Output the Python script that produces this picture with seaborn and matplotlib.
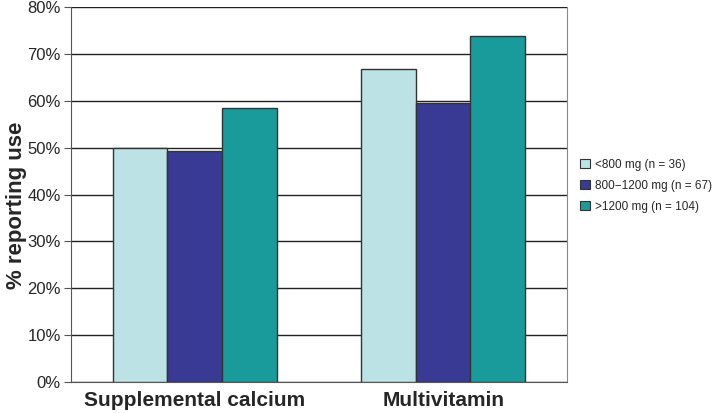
import matplotlib
matplotlib.use("Agg")
import matplotlib.pyplot as plt
import seaborn as sns
import pandas as pd
from matplotlib.ticker import PercentFormatter

categories = ["Supplemental calcium", "Multivitamin"]
groups = ["<800 mg (n = 36)", "800\u22121200 mg (n = 67)", ">1200 mg (n = 104)"]
calcium = [50.0, 49.3, 58.5]
multivitamin = [66.7, 59.5, 73.9]
yticks = [0, 10, 20, 30, 40, 50, 60, 70, 80]

colors = ["#BDE2E6", "#383A94", "#1A9B9B"]

rows = []
for g, v in zip(groups, calcium):
    rows.append({"cat": categories[0], "grp": g, "val": v})
for g, v in zip(groups, multivitamin):
    rows.append({"cat": categories[1], "grp": g, "val": v})
df = pd.DataFrame(rows)

sns.set_style("white")
plt.rcParams["font.family"] = ["Liberation Sans", "DejaVu Sans"]

fig = plt.figure(figsize=(7.2, 4.13), dpi=100)
ax = fig.add_axes([0.098, 0.075, 0.690, 0.908])

sns.barplot(data=df, x="cat", y="val", hue="grp", order=categories, hue_order=groups,
            palette=colors, width=0.66, gap=0, edgecolor="#333333", linewidth=1.0,
            saturation=1, ax=ax, zorder=3, legend=True)

ax.set_ylim(0, 80)
ax.set_yticks(yticks)
ax.yaxis.set_major_formatter(PercentFormatter(decimals=0))
ax.set_xlim(-0.5, 1.5)
ax.grid(axis="y", color="#222222", linewidth=1.0, zorder=0)
ax.set_axisbelow(True)
ax.spines["top"].set_visible(False)
ax.spines["left"].set_color("#555555")
ax.spines["right"].set_color("#888888")
ax.spines["bottom"].set_color("#555555")
ax.tick_params(axis="y", which="both", left=True, length=5, color="#555555", labelsize=12, pad=2)
ax.tick_params(axis="x", bottom=False, labelsize=15, pad=3)
for lab in ax.get_xticklabels():
    lab.set_fontweight("bold")
ax.set_xlabel("")
ax.set_ylabel("% reporting use", fontsize=16, fontweight="bold")
ax.yaxis.set_label_coords(-0.088, 0.47)

leg = ax.legend(loc="center left", bbox_to_anchor=(1.005, 0.523), frameon=False,
                fontsize=8.5, handlelength=0.8, handleheight=0.8, handletextpad=0.45,
                labelspacing=0.75)
for h in leg.legend_handles:
    h.set_edgecolor("#333333")
    h.set_linewidth(0.8)

fig.savefig("out.png", dpi=100)
